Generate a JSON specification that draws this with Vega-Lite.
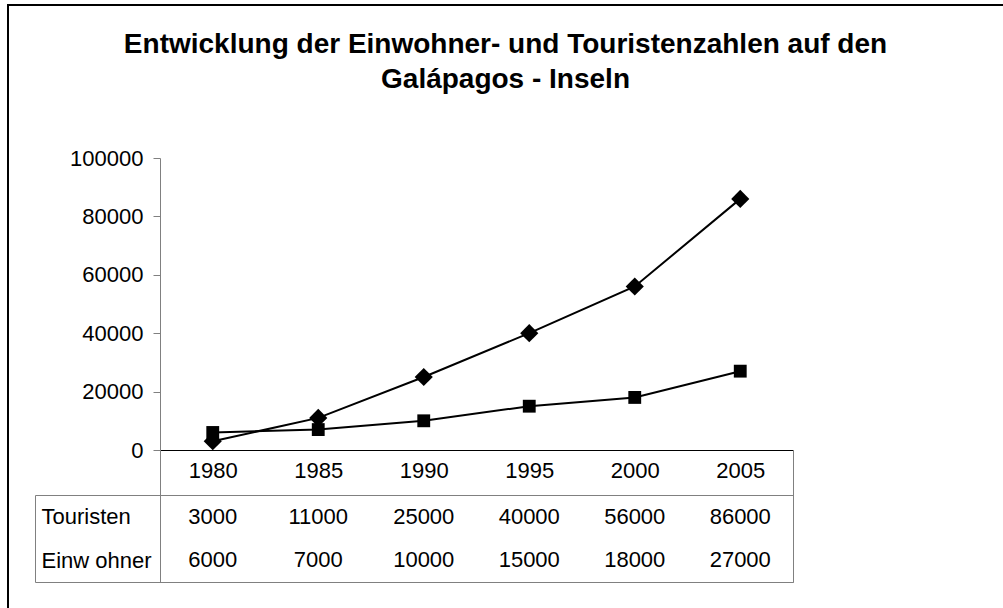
{
  "$schema": "https://vega.github.io/schema/vega-lite/v6.json",
  "width": 995,
  "height": 603,
  "autosize": {"type": "none"},
  "padding": {"left": 8, "top": 5, "right": 0, "bottom": 0},
  "background": "white",
  "config": {
    "font": "Liberation Sans",
    "view": {"stroke": "black", "strokeWidth": 2, "strokeDash": [995, 1598, 603, 1598], "fill": "white"},
    "axis": {"labelFont": "Liberation Sans", "labelFontSize": 22, "labelColor": "black", "grid": false}
  },
  "title": {
    "text": ["Entwicklung der Einwohner- und Touristenzahlen auf den", "Galápagos - Inseln"],
    "font": "Liberation Sans",
    "fontSize": 28,
    "fontWeight": "bold",
    "color": "black",
    "anchor": "middle",
    "frame": "group",
    "orient": "top",
    "baseline": "bottom",
    "lineHeight": 35,
    "offset": -128
  },
  "data": {
    "values": [
      {"Jahr": "1980", "Reihe": "Touristen", "Wert": 3000},
      {"Jahr": "1985", "Reihe": "Touristen", "Wert": 11000},
      {"Jahr": "1990", "Reihe": "Touristen", "Wert": 25000},
      {"Jahr": "1995", "Reihe": "Touristen", "Wert": 40000},
      {"Jahr": "2000", "Reihe": "Touristen", "Wert": 56000},
      {"Jahr": "2005", "Reihe": "Touristen", "Wert": 86000},
      {"Jahr": "1980", "Reihe": "Einw ohner", "Wert": 6000},
      {"Jahr": "1985", "Reihe": "Einw ohner", "Wert": 7000},
      {"Jahr": "1990", "Reihe": "Einw ohner", "Wert": 10000},
      {"Jahr": "1995", "Reihe": "Einw ohner", "Wert": 15000},
      {"Jahr": "2000", "Reihe": "Einw ohner", "Wert": 18000},
      {"Jahr": "2005", "Reihe": "Einw ohner", "Wert": 27000}
    ]
  },
  "layer": [
    {
      "mark": {"type": "line", "color": "black", "strokeWidth": 2},
      "encoding": {
        "x": {
          "field": "Jahr", "type": "ordinal",
          "scale": {"type": "band", "range": [152, 785], "paddingInner": 0, "paddingOuter": 0},
          "axis": {"orient": "bottom", "offset": -158, "labels": false, "ticks": false, "domainColor": "black", "domainWidth": 1, "title": null}
        },
        "y": {
          "field": "Wert", "type": "quantitative",
          "scale": {"domain": [0, 100000], "range": [445, 153], "nice": false},
          "axis": {"orient": "left", "offset": -152, "values": [0, 20000, 40000, 60000, 80000, 100000], "format": "d", "tickSize": 7, "tickColor": "#808080", "domainColor": "#808080", "labelPadding": 10, "title": null}
        },
        "detail": {"field": "Reihe"}
      }
    },
    {
      "mark": {"type": "point", "filled": true, "opacity": 1, "color": "black"},
      "encoding": {
        "x": {
          "field": "Jahr", "type": "ordinal",
          "scale": {"type": "band", "range": [152, 785], "paddingInner": 0, "paddingOuter": 0},
          "axis": null
        },
        "y": {
          "field": "Wert", "type": "quantitative",
          "scale": {"domain": [0, 100000], "range": [445, 153], "nice": false},
          "axis": null
        },
        "shape": {"field": "Reihe", "type": "nominal", "scale": {"domain": ["Touristen", "Einw ohner"], "range": ["diamond", "square"]}, "legend": null},
        "size": {"field": "Reihe", "type": "nominal", "scale": {"domain": ["Touristen", "Einw ohner"], "range": [330, 165]}, "legend": null}
      }
    },
    {
      "mark": {"type": "text", "fontSize": 22, "color": "black", "font": "Liberation Sans"},
      "encoding": {
        "x": {
          "field": "Jahr", "type": "ordinal",
          "scale": {"type": "band", "range": [152, 785], "paddingInner": 0, "paddingOuter": 0},
          "axis": {
            "orient": "bottom", "offset": -26, "tickBand": "extent", "tickSize": -132, "tickColor": "#808080",
            "tickOpacity": {"condition": {"test": "datum.value != null && datum.value !== '2005'", "value": 0}, "value": 1},
            "domainColor": "#808080", "labelBaseline": "middle", "labelPadding": 20, "labelAngle": 0, "title": null
          }
        },
        "y": {
          "field": "Reihe", "type": "nominal",
          "scale": {"type": "band", "domain": ["Touristen", "Einw ohner"], "range": [490, 577], "paddingInner": 0, "paddingOuter": 0},
          "axis": {
            "orient": "left", "offset": -27, "tickBand": "extent", "tickSize": -758, "tickColor": "#808080",
            "tickOpacity": {"condition": {"test": "datum.value === 'Touristen'", "value": 0}, "value": 1},
            "domainColor": "#808080", "labelAlign": "left", "labelBaseline": "middle", "labelPadding": 752, "title": null
          }
        },
        "text": {"field": "Wert", "type": "quantitative", "format": "d"}
      }
    }
  ],
  "resolve": {"scale": {"x": "independent", "y": "independent"}}
}
